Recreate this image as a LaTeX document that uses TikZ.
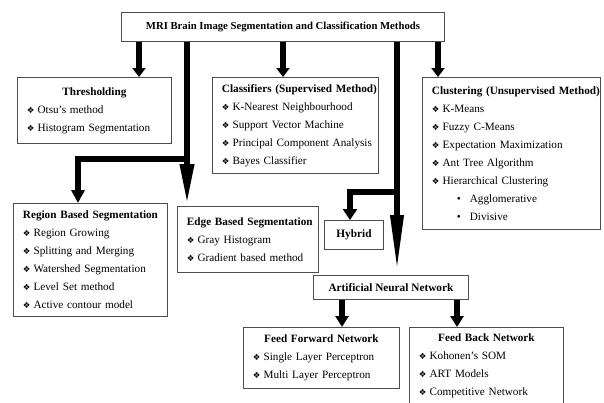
\documentclass[tikz,border=0pt]{standalone}
\usepackage{fontspec}
\setmainfont{Liberation Serif}
\newfontfamily\dingfont{DejaVu Sans}
\usetikzlibrary{positioning,calc,arrows.meta}

\newcommand{\dia}{{\dingfont\fontsize{8.5}{8.5}\selectfont ❖}\hspace{3pt}}
\newcommand{\itm}[1]{\makebox[\hsize][l]{\dia #1}}
\newcommand{\hdl}[1]{\makebox[\hsize][l]{\bfseries #1}}
\newcommand{\hdc}[1]{\makebox[\hsize][c]{\bfseries #1}}
\newcommand{\subitm}[1]{\makebox[\hsize][l]{\hspace{25pt}\textbullet\hspace{9pt}#1}}

\begin{document}
\begin{tikzpicture}[x=1pt,y=-1pt,
    box/.style={draw=black!70, line width=0.9pt, fill=white, anchor=north west,
      inner xsep=9.5pt, inner ysep=0pt, align=left, font=\fontsize{11.2}{18}\selectfont},
    tbox/.style={draw=black!70, line width=0.9pt, fill=white, anchor=north west,
      inner sep=0pt, align=center, font=\fontsize{11.3}{12}\selectfont\bfseries},
    arr/.style={line width=6.5pt, line join=miter, -{Triangle[length=9pt,width=13pt]}}]
    \clip (0,0) rectangle (604,402);

    % Main title
    \node[tbox, minimum width=323, minimum height=29, font=\fontsize{10.7}{12}\selectfont\bfseries] (top) at (121,12)
      {MRI Brain Image Segmentation and Classification Methods};

    % First row
    \node[box, text width=135, minimum height=66] (thresh) at (17,77)
      {\hdc{Thresholding}\\ \itm{Otsu's method}\\ \itm{Histogram Segmentation}};
    \node[box, text width=147, minimum height=96] (classif) at (212,77)
      {\hdl{Classifiers (Supervised Method)}\\ \itm{K-Nearest Neighbourhood}\\
       \itm{Support Vector Machine}\\ \itm{Principal Component Analysis}\\ \itm{Bayes Classifier}};
    \node[box, text width=159, minimum height=152] (cluster) at (422,77)
      {\hdl{Clustering (Unsupervised Method)}\\ \itm{K-Means}\\ \itm{Fuzzy C-Means}\\
       \itm{Expectation Maximization}\\ \itm{Ant Tree Algorithm}\\ \itm{Hierarchical Clustering}\\
       \subitm{Agglomerative}\\ \subitm{Divisive}};

    % Second row
    \node[box, text width=135, minimum height=113] (region) at (13,203)
      {\hdl{Region Based Segmentation}\\ \itm{Region Growing}\\ \itm{Splitting and Merging}\\
       \itm{Watershed Segmentation}\\ \itm{Level Set method}\\ \itm{Active contour model}};
    \node[box, text width=122, minimum height=66] (edge) at (177,206)
      {\hdl{Edge Based Segmentation}\\ \itm{Gray Histogram}\\ \itm{Gradient based method}};
    \node[tbox, minimum width=59, minimum height=29] (hybrid) at (324,220) {Hybrid};
    \node[tbox, minimum width=155, minimum height=24] (ann) at (313,275) {Artificial Neural Network};

    % Neural network types
    \node[box, text width=137, minimum height=61] (ffn) at (243,327)
      {\hdc{Feed Forward Network}\\ \itm{Single Layer Perceptron}\\ \itm{Multi Layer Perceptron}};
    \node[box, text width=135, minimum height=76] (fbn) at (409,327)
      {\hdc{Feed Back Network}\\ \itm{Kohonen's SOM}\\ \itm{ART Models}\\ \itm{Competitive Network}};

    % Connectors
    \coordinate (x1) at (139,0);
    \coordinate (x2) at (187,0);
    \coordinate (j2) at (187,159);
    \coordinate (x2r) at (78,0);
    \coordinate (x3) at (283,0);
    \coordinate (x4) at (397,0);
    \coordinate (j4) at (397,192);
    \coordinate (x4h) at (350,0);
    \coordinate (x5) at (438,0);
    \coordinate (x6) at (342,0);
    \coordinate (x7) at (457,0);

    \draw[arr] (x1 |- top.south) -- (x1 |- thresh.north);
    \draw[arr] (x3 |- top.south) -- (x3 |- classif.north);
    \draw[arr] (x5 |- top.south) -- (x5 |- cluster.north);
    \draw[arr, -{Triangle[length=42pt,width=13pt]}] (x2 |- top.south) -- (x2 |- edge.north);
    \draw[arr, -{Triangle[length=13pt,width=13pt]}] (j2) -| (x2r |- region.north);
    \draw[arr, -{Triangle[length=60pt,width=12pt]}] (x4 |- top.south) -- (x4 |- ann.north);
    \draw[arr, -{Triangle[length=11pt,width=14pt]}] (j4) -| (x4h |- hybrid.north);
    \draw[arr, -{Triangle[length=11pt,width=13pt]}] (x6 |- ann.south) -- (x6 |- ffn.north);
    \draw[arr, -{Triangle[length=11pt,width=13pt]}] (x7 |- ann.south) -- (x7 |- fbn.north);
\end{tikzpicture}
\end{document}
